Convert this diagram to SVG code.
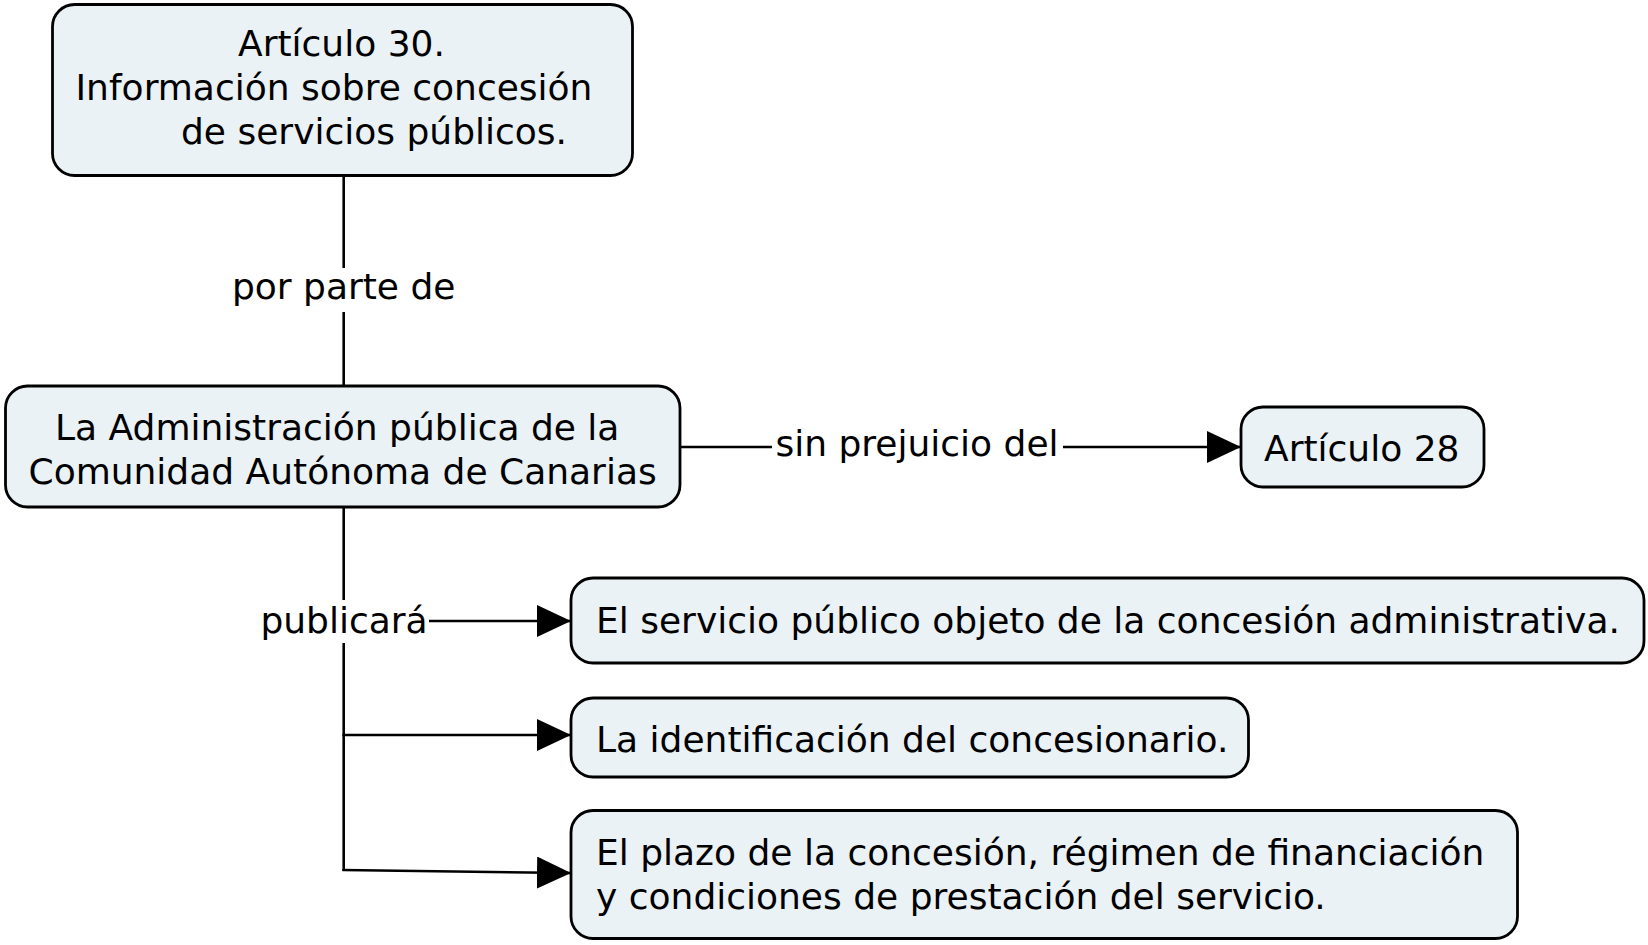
<svg xmlns="http://www.w3.org/2000/svg" width="1648" height="945" viewBox="0 0 1648 945">
<defs>
<style>
.node rect{fill:#eaf2f5;stroke:#000;stroke-width:2.8}
text{font-family:"DejaVu Sans","Verdana",sans-serif;font-size:36px;fill:#000}
.c{stroke:#000;stroke-width:2.6;fill:none}
</style>
<marker id="arr" markerUnits="userSpaceOnUse" markerWidth="34" markerHeight="32" refX="33" refY="16" orient="auto">
<path d="M0,0 L34,16 L0,32 Z" fill="#000"/>
</marker>
</defs>
<rect width="1648" height="945" fill="#fff"/>
<g id="connectors">
<line class="c" x1="343.7" y1="175" x2="343.7" y2="268"/>
<line class="c" x1="343.7" y1="312" x2="343.7" y2="386"/>
<text x="343.7" y="299" text-anchor="middle">por parte de</text>
<line class="c" x1="680" y1="447" x2="772" y2="447"/>
<line class="c" x1="1063" y1="447" x2="1240" y2="447" marker-end="url(#arr)"/>
<text x="917" y="456" text-anchor="middle">sin prejuicio del</text>
<line class="c" x1="343.7" y1="507" x2="343.7" y2="600"/>
<line class="c" x1="343.7" y1="643" x2="343.7" y2="871"/>
<text x="344" y="633" text-anchor="middle">publicará</text>
<line class="c" x1="429" y1="621" x2="570" y2="621" marker-end="url(#arr)"/>
<line class="c" x1="342.4" y1="735" x2="570" y2="735" marker-end="url(#arr)"/>
<path class="c" d="M342.4,870 L570,873" marker-end="url(#arr)"/>
</g>
<g id="n1" class="node">
<rect x="52.5" y="4.5" width="580" height="171" rx="22"/>
<text x="238" y="56">Artículo 30.</text>
<text x="75.5" y="100">Información sobre concesión</text>
<text x="181" y="144">de servicios públicos.</text>
</g>
<g id="n2" class="node">
<rect x="5.5" y="386" width="674.5" height="121" rx="22"/>
<text x="55" y="440">La Administración pública de la</text>
<text x="28.5" y="484">Comunidad Autónoma de Canarias</text>
</g>
<g id="n3" class="node">
<rect x="1241" y="407" width="243" height="80" rx="22"/>
<text x="1264" y="461">Artículo 28</text>
</g>
<g id="n4" class="node">
<rect x="571" y="578" width="1073" height="85" rx="22"/>
<text x="596" y="633">El servicio público objeto de la concesión administrativa.</text>
</g>
<g id="n5" class="node">
<rect x="571" y="698" width="677.5" height="79" rx="22"/>
<text x="596" y="752">La identificación del concesionario.</text>
</g>
<g id="n6" class="node">
<rect x="571" y="810.5" width="946.5" height="128" rx="22"/>
<text x="596" y="865">El plazo de la concesión, régimen de financiación</text>
<text x="596" y="909">y condiciones de prestación del servicio.</text>
</g>
</svg>
